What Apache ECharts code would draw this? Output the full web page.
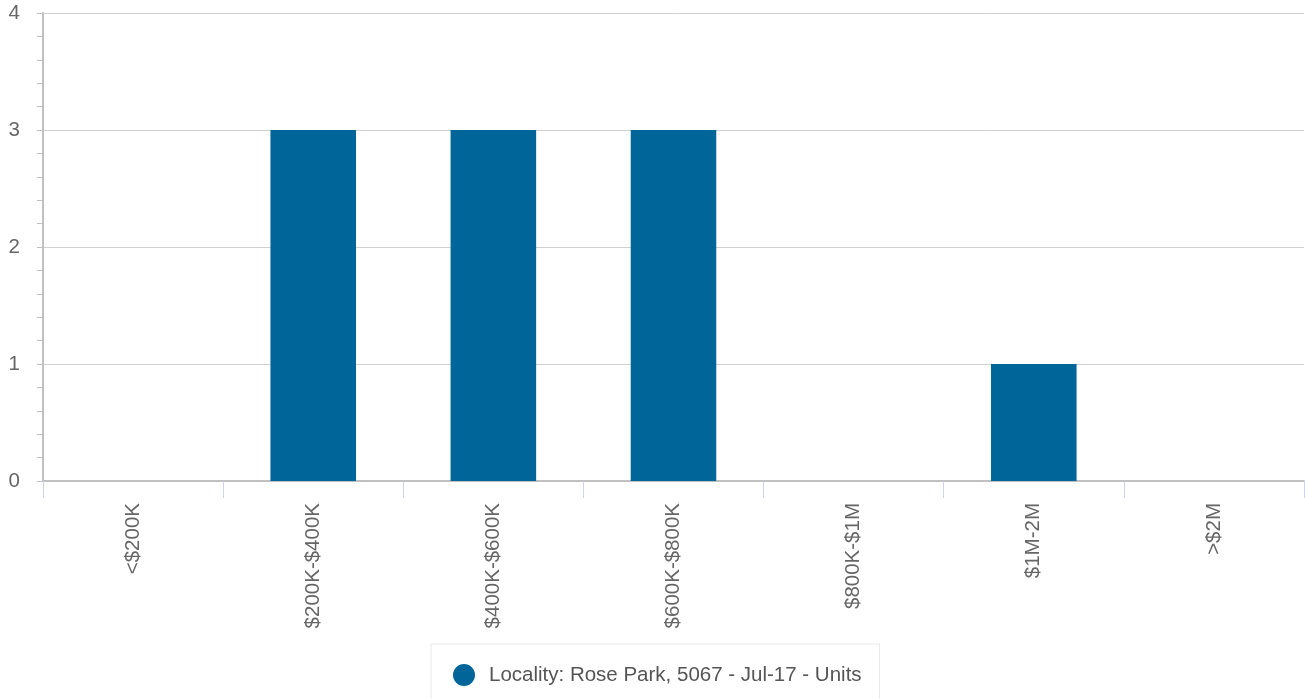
<!DOCTYPE html>
<html><head><meta charset="utf-8">
<script src="https://cdn.jsdelivr.net/npm/echarts@6/dist/echarts.min.js"></script>
<style>html,body{margin:0;padding:0;background:#fff}#c{width:1305px;height:699px}</style>
</head><body><div id="c"></div>
<script>
const categories = ['<$200K','$200K-$400K','$400K-$600K','$600K-$800K','$800K-$1M','$1M-2M','>$2M'];
const units = [0, 3, 3, 3, 0, 1, 0];
const seriesName = 'Locality: Rose Park, 5067 - Jul-17 - Units';
const chart = echarts.init(document.getElementById('c'));
chart.setOption({
  animation: false,
  textStyle: { fontFamily: 'Liberation Sans, Arial, sans-serif' },
  grid: { left: 43, right: 1, top: 13, bottom: 218, containLabel: false },
  legend: {
    data: [{ name: seriesName, icon: 'circle' }],
    left: 431, top: 644,
    padding: [20, 18, 20, 22],
    itemWidth: 22, itemHeight: 22, itemGap: 10,
    borderColor: '#e8e8e8', borderWidth: 1, backgroundColor: '#fff',
    textStyle: { fontSize: 20.5, color: '#555', padding: [0, 0, 0, 9] }
  },
  xAxis: {
    type: 'category', data: categories,
    axisLine: { lineStyle: { color: '#c0c0c0', width: 2 } },
    axisTick: { show: true, length: 17, lineStyle: { color: '#ccd6eb' } },
    axisLabel: { rotate: 90, margin: 22, fontSize: 20.5, color: '#666', interval: 0 },
    splitLine: { show: false }
  },
  yAxis: {
    type: 'value', min: 0, max: 4, interval: 1,
    axisLine: { show: true, lineStyle: { color: '#c0c0c0', width: 2 } },
    axisTick: { show: true, length: 6, lineStyle: { color: '#c0c0c0' } },
    minorTick: { show: true, splitNumber: 5, length: 6, lineStyle: { color: '#c0c0c0' } },
    axisLabel: { fontSize: 20.5, color: '#666', margin: 23 },
    splitLine: { show: true, lineStyle: { color: '#d0d0d0', width: 1 } }
  },
  series: [{
    name: seriesName, type: 'bar', data: units, barWidth: '47.5%',
    itemStyle: { color: '#006699' }
  }]
});
</script></body></html>
